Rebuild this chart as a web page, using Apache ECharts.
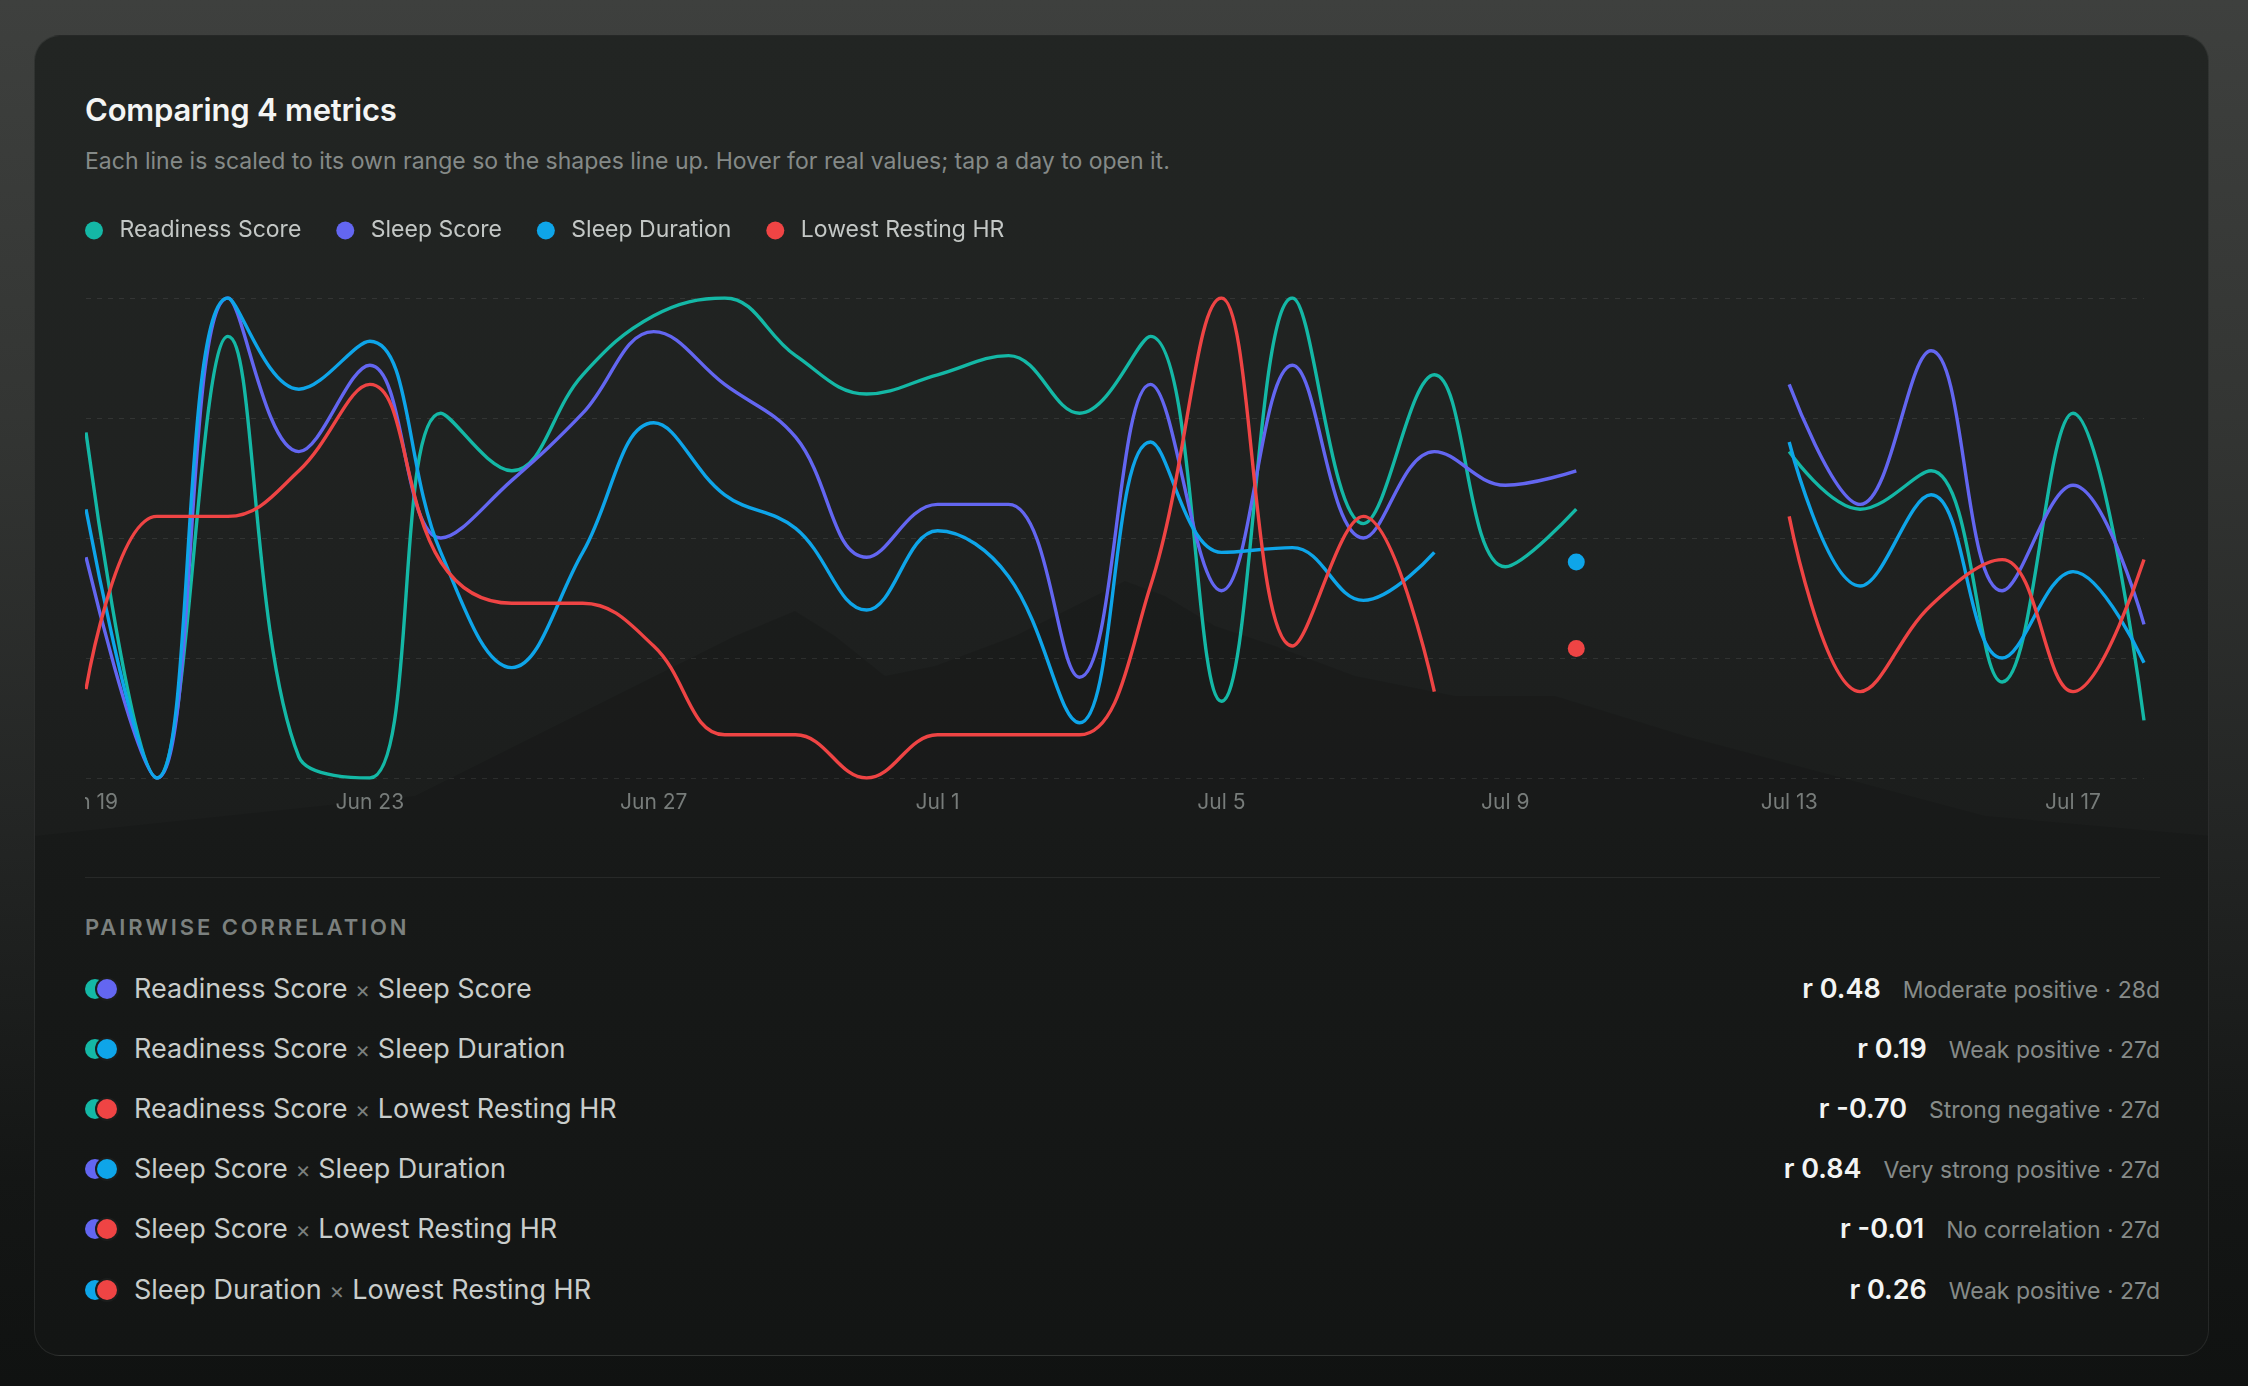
<!DOCTYPE html>
<html>
<head>
<meta charset="utf-8">
<script src="https://cdn.jsdelivr.net/npm/echarts@6/dist/echarts.min.js"></script>
<style>
  html, body { margin: 0; padding: 0; width: 2248px; height: 1386px; overflow: hidden; }
  body {
    background: linear-gradient(180deg, #3e403e 0%, #333533 30%, #232524 60%, #141615 85%, #101211 100%);
    font-family: Inter, "Noto Sans", sans-serif;
  }
  #card {
    position: absolute; left: 34px; top: 35px; width: 2175px; height: 1321px;
    box-sizing: border-box; border-radius: 26px;
    border: 1px solid rgba(255,255,255,0.07);
    background: linear-gradient(180deg, #222523 0%, #1f2120 40%, #1a1c1b 65%, #161817 100%);
    overflow: hidden;
  }
  #bgart { position: absolute; left: 0; top: 0; width: 2175px; height: 1321px; }
  .title { position: absolute; left: 50px; top: 55px; font-size: 31px; line-height: 38px; font-weight: 600; color: #f4f5f4; letter-spacing: -0.2px; }
  .sub { position: absolute; left: 50px; top: 110px; font-size: 23px; line-height: 30px; color: #858a88; }
  #chart { position: absolute; left: 50px; top: 170px; width: 2075px; height: 625px; }
  .divider { position: absolute; left: 50px; top: 841px; width: 2075px; height: 1px; background: rgba(255,255,255,0.07); }
  .heading { position: absolute; left: 50px; top: 876px; font-size: 22px; line-height: 30px; font-weight: 600; letter-spacing: 2.9px; color: #7c817f; }
  .row { position: absolute; left: 50px; width: 2075px; height: 40px; line-height: 40px; }
  .pair { position: absolute; left: 0; top: 10px; width: 34px; height: 20px; }
  .pair i { position: absolute; top: 0; width: 20px; height: 20px; border-radius: 50%; }
  .pair i.b { left: 11.5px; box-shadow: 0 0 0 2px #1b1d1c; }
  .pair i.a { left: 0; }
  .name { position: absolute; left: 49px; top: 0; font-size: 27px; color: #c9cdcb; white-space: nowrap; }
  .name .x { color: #7b807e; font-size: 23px; }
  .right { position: absolute; right: 0; top: 0; white-space: nowrap; }
  .right b { font-size: 27px; font-weight: 600; color: #f3f4f3; margin-right: 22px; }
  .right span { font-size: 23px; color: #868b89; }
</style>
</head>
<body>
<div id="card">
  <svg id="bgart" viewBox="0 0 2175 1321" preserveAspectRatio="none">
    <path d="M380 760 L520 690 L620 640 L700 600 L760 575 L800 600 L850 640 L900 630 L980 600 L1040 570 L1090 545 L1130 560 L1180 590 L1240 610 L1320 640 L1420 660 L1520 660 L1650 700 L1800 740 L1950 780 L2175 800 L2175 1321 L0 1321 L0 800 Z" fill="rgba(0,0,0,0.10)"/>
  </svg>
  <div class="title">Comparing 4 metrics</div>
  <div class="sub">Each line is scaled to its own range so the shapes line up. Hover for real values; tap a day to open it.</div>
  <div id="chart"></div>
  <div class="divider"></div>
  <div class="heading">PAIRWISE CORRELATION</div>
  <div id="rows"></div>
</div>
<script>
// ---- data (each line scaled to its own 0–1 range) ----
const days = ['Jun 19','Jun 20','Jun 21','Jun 22','Jun 23','Jun 24','Jun 25','Jun 26','Jun 27','Jun 28',
  'Jun 29','Jun 30','Jul 1','Jul 2','Jul 3','Jul 4','Jul 5','Jul 6','Jul 7','Jul 8',
  'Jul 9','Jul 10','Jul 11','Jul 12','Jul 13','Jul 14','Jul 15','Jul 16','Jul 17','Jul 18'];

const metricNames = ['Readiness Score', 'Sleep Score', 'Sleep Duration', 'Lowest Resting HR'];
const metricColors = ['#14b8a6', '#6366f1', '#0ea5e9', '#ef4444'];

const readinessScore = [0.72, 0.0, 0.92, 0.044, 0.0, 0.76, 0.64, 0.84, 0.963, 1.0,
  0.88, 0.80, 0.84, 0.88, 0.76, 0.92, 0.16, 1.0, 0.53, 0.84,
  0.44, 0.56, null, null, 0.68, 0.56, 0.64, 0.20, 0.76, 0.12];

const sleepScore = [0.46, 0.0, 1.0, 0.68, 0.86, 0.50, 0.62, 0.76, 0.93, 0.82,
  0.71, 0.46, 0.57, 0.57, 0.21, 0.82, 0.39, 0.86, 0.50, 0.68,
  0.61, 0.64, null, null, 0.82, 0.57, 0.89, 0.39, 0.61, 0.32];

const sleepDuration = [0.56, 0.0, 1.0, 0.81, 0.91, 0.47, 0.23, 0.47, 0.74, 0.59,
  0.52, 0.35, 0.515, 0.42, 0.115, 0.70, 0.47, 0.48, 0.37, 0.47,
  null, 0.45, null, null, 0.70, 0.40, 0.59, 0.25, 0.43, 0.24];

const lowestRestingHR = [0.185, 0.545, 0.545, 0.64, 0.82, 0.45, 0.364, 0.364, 0.275, 0.09,
  0.09, 0.0, 0.09, 0.09, 0.09, 0.40, 1.0, 0.275, 0.545, 0.18,
  null, 0.27, null, null, 0.545, 0.18, 0.36, 0.455, 0.18, 0.455];

const xTickLabels = ['Jun 19','Jun 23','Jun 27','Jul 1','Jul 5','Jul 9','Jul 13','Jul 17'];

// pairwise correlation list
const pairA = [0, 0, 0, 1, 1, 2];
const pairB = [1, 2, 3, 2, 3, 3];
const pairR = ['0.48', '0.19', '-0.70', '0.84', '-0.01', '0.26'];
const pairLabel = ['Moderate positive', 'Weak positive', 'Strong negative', 'Very strong positive', 'No correlation', 'Weak positive'];
const pairDays = ['28d', '27d', '27d', '27d', '27d', '27d'];

// ---- chart ----
const seriesData = [readinessScore, sleepScore, sleepDuration, lowestRestingHR];
function isolated(arr, i) {
  return arr[i] != null && (i === 0 || arr[i - 1] == null) && (i === arr.length - 1 || arr[i + 1] == null);
}

const chart = echarts.init(document.getElementById('chart'), null, { renderer: 'canvas' });
chart.setOption({
  animation: false,
  legend: {
    left: 0, top: 13, padding: 0, itemGap: 35,
    itemWidth: 21, itemHeight: 18, icon: 'circle',
    textStyle: { color: '#c3c7c5', fontSize: 23, fontFamily: 'Inter', padding: [0, 0, 0, 10] },
    data: metricNames
  },
  grid: { left: 1, right: 16, top: 92, bottom: 53, containLabel: false, outerBoundsMode: 'none' },
  xAxis: {
    type: 'category', data: days, boundaryGap: false,
    axisLine: { show: false }, axisTick: { show: false },
    axisLabel: {
      interval: 0, color: '#777c7a', fontSize: 21, fontFamily: 'Inter', margin: 14,
      hideOverlap: false,
      formatter: v => xTickLabels.includes(v) ? v : ''
    },
    splitLine: { show: false }
  },
  yAxis: {
    type: 'value', min: 0, max: 1, interval: 0.25,
    axisLabel: { show: false }, axisLine: { show: false }, axisTick: { show: false },
    splitLine: { show: true, lineStyle: { color: 'rgba(255,255,255,0.085)', width: 1, type: [5, 6] } }
  },
  series: seriesData.map((arr, k) => ({
    name: metricNames[k],
    type: 'line',
    data: arr,
    smooth: 0.4,
    connectNulls: false,
    showSymbol: true, showAllSymbol: true,
    symbol: 'circle',
    symbolSize: (v, p) => isolated(arr, p.dataIndex) ? 17 : 0,
    itemStyle: { color: metricColors[k] },
    lineStyle: { color: metricColors[k], width: 3.4 },
    emphasis: { disabled: true }
  }))
});

// ---- correlation rows ----
const rowsEl = document.getElementById('rows');
pairA.forEach((a, i) => {
  const b = pairB[i];
  const row = document.createElement('div');
  row.className = 'row';
  row.style.top = (932.5 + i * 60.2) + 'px';
  row.innerHTML =
    '<span class="pair"><i class="a" style="background:' + metricColors[a] + '"></i><i class="b" style="background:' + metricColors[b] + '"></i></span>' +
    '<span class="name">' + metricNames[a] + ' <span class="x">×</span> ' + metricNames[b] + '</span>' +
    '<span class="right"><b>r ' + pairR[i] + '</b><span>' + pairLabel[i] + ' · ' + pairDays[i] + '</span></span>';
  rowsEl.appendChild(row);
});
</script>
</body>
</html>
